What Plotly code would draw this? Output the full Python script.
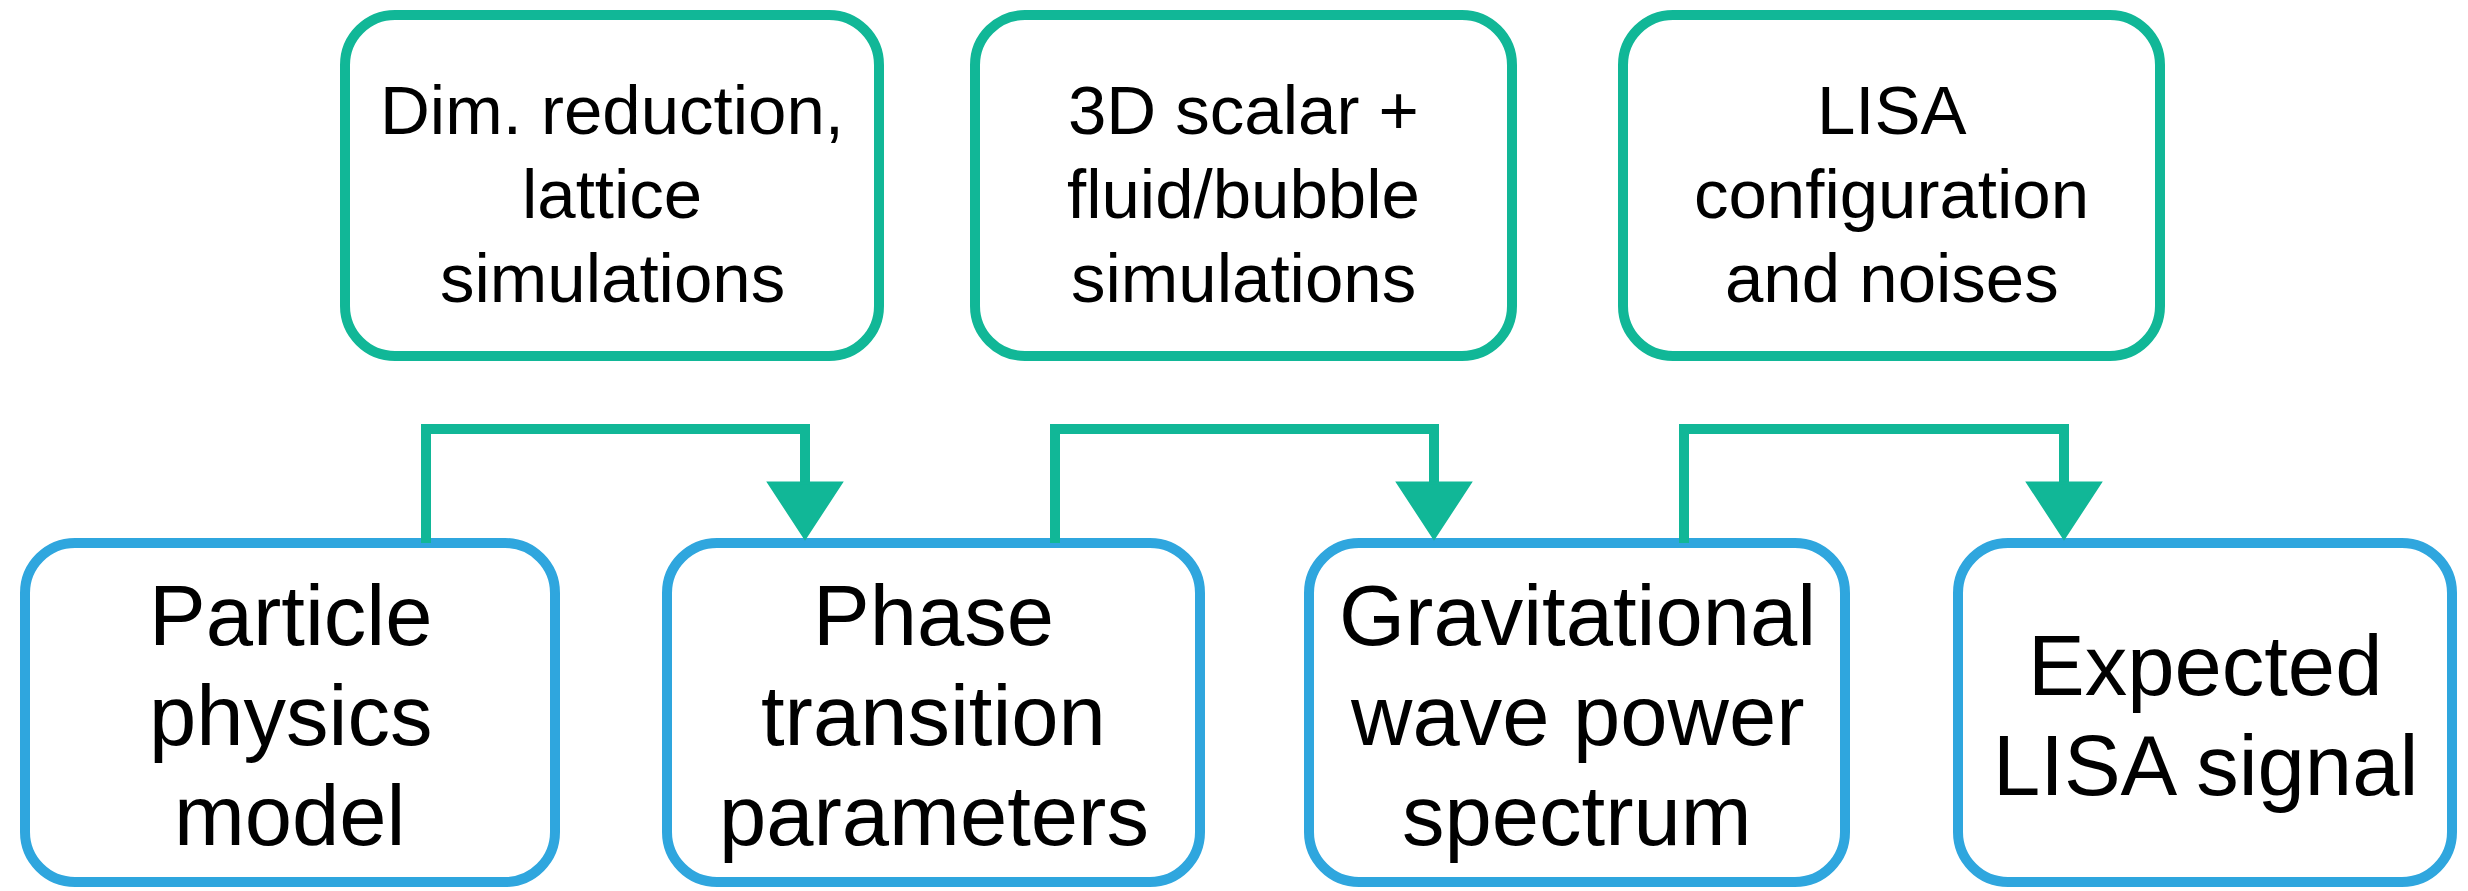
import plotly.graph_objects as go

# ---------------- data ----------------
top_labels = [
    ["Dim. reduction,", "lattice", "simulations"],
    ["3D scalar +", "fluid/bubble", "simulations"],
    ["LISA", "configuration", "and noises"],
]
bottom_labels = [
    ["Particle", "physics", "model"],
    ["Phase", "transition", "parameters"],
    ["Gravitational", "wave power", "spectrum"],
    ["Expected", "LISA signal"],
]
# each link: (source bottom box, target bottom box) fed by top box of same index
links = [(0, 1), (1, 2), (2, 3)]

# ---------------- layout constants ----------------
W, H = 2468, 891
GREEN = "#11B797"
BLUE = "#2FA6DE"
FONT = "Liberation Sans, Arial, Helvetica, sans-serif"

top_x0 = [345, 975, 1623]
top_x1 = [879, 1512, 2160]
top_y0, top_y1 = 15, 356
bot_x0 = [25, 667, 1309, 1958]
bot_x1 = [555, 1200, 1845, 2452]
bot_y0, bot_y1 = 543, 882
src_x = [426, 1055, 1684]
dst_x = [805, 1434, 2064]
bus_y = 429
arrow_top, arrow_tip, arrow_half = 483, 538, 36
radius = 50
stroke = 10
top_font, top_step, top_shift = 69, 84, 9
bot_font, bot_step, bot_shift = 85, 100, 3


def rrect(x0, y0, x1, y1, r):
    k = 0.5523 * r
    return (
        f"M {x0 + r},{y0} L {x1 - r},{y0} "
        f"C {x1 - r + k},{y0} {x1},{y0 + r - k} {x1},{y0 + r} "
        f"L {x1},{y1 - r} "
        f"C {x1},{y1 - r + k} {x1 - r + k},{y1} {x1 - r},{y1} "
        f"L {x0 + r},{y1} "
        f"C {x0 + r - k},{y1} {x0},{y1 - r + k} {x0},{y1 - r} "
        f"L {x0},{y0 + r} "
        f"C {x0},{y0 + r - k} {x0 + r - k},{y0} {x0 + r},{y0} Z"
    )


shapes = []
annotations = []


def add_box(x0, x1, y0, y1, color, lines, fsize, step, shift):
    shapes.append(dict(type="path", xref="x", yref="y", path=rrect(x0, y0, x1, y1, radius),
                       line=dict(color=color, width=stroke), fillcolor="rgba(0,0,0,0)", layer="above"))
    cx = (x0 + x1) / 2
    cy = (y0 + y1) / 2 + shift
    n = len(lines)
    for i, t in enumerate(lines):
        y = cy + (i - (n - 1) / 2) * step
        annotations.append(dict(x=cx, y=y, xref="x", yref="y", text=t, showarrow=False,
                                xanchor="center", yanchor="middle",
                                font=dict(family=FONT, size=fsize, color="black")))


for i, lab in enumerate(top_labels):
    add_box(top_x0[i], top_x1[i], top_y0, top_y1, GREEN, lab, top_font, top_step, top_shift)
for i, lab in enumerate(bottom_labels):
    add_box(bot_x0[i], bot_x1[i], bot_y0, bot_y1, BLUE, lab, bot_font, bot_step, bot_shift)

for j, (s, t) in enumerate(links):
    sx, tx = src_x[j], dst_x[j]
    shapes.append(dict(type="path", xref="x", yref="y",
                       path=f"M {sx},{bot_y0} L {sx},{bus_y} L {tx},{bus_y} L {tx},{arrow_top + 5}",
                       line=dict(color=GREEN, width=stroke), layer="above"))
    shapes.append(dict(type="path", xref="x", yref="y",
                       path=f"M {tx - arrow_half},{arrow_top} L {tx + arrow_half},{arrow_top} L {tx},{arrow_tip} Z",
                       line=dict(color=GREEN, width=3), fillcolor=GREEN, layer="above"))

fig = go.Figure()
fig.add_trace(go.Scatter(x=[0, W], y=[0, H], mode="markers", marker=dict(opacity=0),
                         hoverinfo="skip", showlegend=False))
fig.update_layout(
    width=W, height=H, margin=dict(l=0, r=0, t=0, b=0),
    paper_bgcolor="white", plot_bgcolor="white",
    xaxis=dict(range=[0, W], visible=False, fixedrange=True),
    yaxis=dict(range=[H, 0], visible=False, fixedrange=True),
    shapes=shapes, annotations=annotations, showlegend=False,
)
fig.write_html("out.html", post_script="document.body.style.margin='0';document.body.style.overflow='hidden';",
               config={"displayModeBar": False})
